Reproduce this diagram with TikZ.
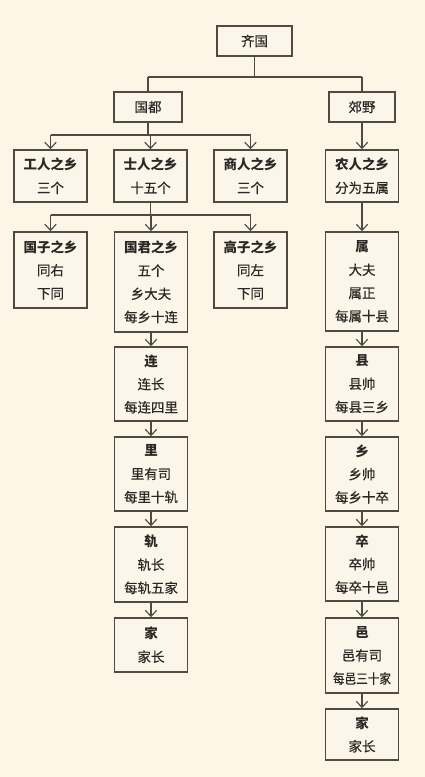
\documentclass[tikz,border=0pt]{standalone}
\usepackage{fontspec}
\setmainfont{Noto Sans CJK SC}[UprightFeatures={FakeBold=0.5}]
\usepackage{xcolor}
\usepackage{tikz}
\usetikzlibrary{arrows.meta,positioning,backgrounds}

\definecolor{paper}{HTML}{FDF5E6}
\definecolor{boxfill}{HTML}{FCF6EA}
\definecolor{ink}{HTML}{4E4B43}
\definecolor{txt}{HTML}{2A2824}

\begin{document}
\begin{tikzpicture}[
  x=0.3mm, y=-0.3mm,
  font=\fontsize{11.5pt}{19.8pt}\selectfont,
  >={Straight Barb[length=1.8mm,width=3.4mm,line width=1pt]},
  unit/.style={draw=ink, line width=1.4pt, fill=boxfill, text=txt,
               align=center, inner sep=0pt, minimum width=73*0.3mm},
  link/.style={ink, line width=1.3pt},
  flow/.style={link, ->},
]

%% ── Canvas ───────────────────────────────────────────────────────────────────
\fill[paper] (0,0) rectangle (425,777);
\useasboundingbox (0,0) rectangle (425,777);

%% ── Top levels ───────────────────────────────────────────────────────────────
\node[unit, minimum width=75*0.3mm, minimum height=30*0.3mm] (qiguo)  at (254.5,41) {齐国};
\node[unit, minimum width=68*0.3mm, minimum height=30*0.3mm] (guodu)  at (148,107)  {国都};
\node[unit, minimum width=66*0.3mm, minimum height=30*0.3mm] (jiaoye) at (362,107)  {郊野};

%% ── Second level ─────────────────────────────────────────────────────────────
\node[unit, minimum height=52*0.3mm] (gongren)  at (50.5,176)  {\textbf{工人之乡}\\三个};
\node[unit, minimum height=52*0.3mm] (shiren)   at (150.5,176) {\textbf{士人之乡}\\十五个};
\node[unit, minimum height=52*0.3mm] (shangren) at (250.5,176) {\textbf{商人之乡}\\三个};
\node[unit, minimum height=52*0.3mm] (nongren)  at (362,176)   {\textbf{农人之乡}\\分为五属};

%% ── Third level ──────────────────────────────────────────────────────────────
\node[unit, minimum height=76*0.3mm]  (guozi)  at (50.5,270)  {\textbf{国子之乡}\\同右\\下同};
\node[unit, minimum height=100*0.3mm] (guojun) at (151,282)   {\textbf{国君之乡}\\五个\\乡大夫\\每乡十连};
\node[unit, minimum height=76*0.3mm]  (gaozi)  at (250.5,270) {\textbf{高子之乡}\\同左\\下同};
\node[unit, minimum height=99*0.3mm]  (shu)    at (362,281.5) {\textbf{属}\\大夫\\属正\\每属十县};

%% ── Capital chain ────────────────────────────────────────────────────────────
\node[unit, minimum height=74*0.3mm] (lian) at (151,384)   {\textbf{连}\\连长\\每连四里};
\node[unit, minimum height=74*0.3mm] (li)   at (151,474)   {\textbf{里}\\里有司\\每里十轨};
\node[unit, minimum height=75*0.3mm] (gui)  at (151,564.5) {\textbf{轨}\\轨长\\每轨五家};
\node[unit, minimum height=54*0.3mm] (jiaA) at (151,645)   {\textbf{家}\\家长};

%% ── Countryside chain ────────────────────────────────────────────────────────
\node[unit, minimum height=74*0.3mm] (xian)  at (362,384)   {\textbf{县}\\县帅\\每县三乡};
\node[unit, minimum height=74*0.3mm] (xiang) at (362,474)   {\textbf{乡}\\乡帅\\每乡十卒};
\node[unit, minimum height=74*0.3mm] (zu)    at (362,564)   {\textbf{卒}\\卒帅\\每卒十邑};
\node[unit, minimum height=75*0.3mm] (yi)    at (362,655.5) {\textbf{邑}\\邑有司\\\scalebox{0.86}[1]{每邑三十家}};
\node[unit, minimum height=51*0.3mm] (jiaB)  at (362,734.5) {\textbf{家}\\家长};

%% ── Branch rails ─────────────────────────────────────────────────────────────
\coordinate (railA) at (0,77);
\coordinate (railB) at (0,135);
\coordinate (railC) at (0,215);

\draw[link] (qiguo.south) -- (qiguo.south |- railA);
\draw[link] (guodu.north |- railA) -- (jiaoye.north |- railA);
\draw[link] (guodu.north |- railA) -- (guodu.north);
\draw[link] (jiaoye.north |- railA) -- (jiaoye.north);

\draw[link] (guodu.south) -- (guodu.south |- railB);
\draw[link] (gongren.north |- railB) -- (shangren.north |- railB);
\draw[flow] (gongren.north |- railB) -- (gongren.north);
\draw[flow] (shiren.north |- railB)  -- (shiren.north);
\draw[flow] (shangren.north |- railB) -- (shangren.north);
\draw[flow] (jiaoye) -- (nongren);

\draw[link] (shiren.south) -- (shiren.south |- railC);
\draw[link] (guozi.north |- railC) -- (gaozi.north |- railC);
\draw[flow] (guozi.north |- railC) -- (guozi.north);
\draw[flow] (guojun.north |- railC) -- (guojun.north);
\draw[flow] (gaozi.north |- railC) -- (gaozi.north);

%% ── Chains ───────────────────────────────────────────────────────────────────
\draw[flow] (guojun) -- (lian);
\draw[flow] (lian)   -- (li);
\draw[flow] (li)     -- (gui);
\draw[flow] (gui)    -- (jiaA);

\draw[flow] (nongren) -- (shu);
\draw[flow] (shu)     -- (xian);
\draw[flow] (xian)    -- (xiang);
\draw[flow] (xiang)   -- (zu);
\draw[flow] (zu)      -- (yi);
\draw[flow] (yi)      -- (jiaB);

\end{tikzpicture}
\end{document}
